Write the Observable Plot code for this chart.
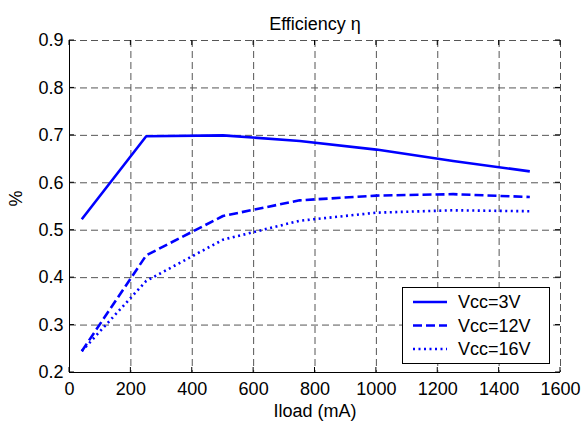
<!DOCTYPE html>
<html>
<head>
<meta charset="utf-8">
<script src="https://cdn.jsdelivr.net/npm/d3@7"></script>
<script src="https://cdn.jsdelivr.net/npm/@observablehq/plot@0.6"></script>
<style>
  body { margin: 0; background: #fff; }
  #wrap { position: relative; width: 581px; height: 423px; font-family: "Liberation Sans", Arial, sans-serif; }
  #legend { position: absolute; }
</style>
</head>
<body>
<div id="wrap"></div>
<script>
const iload = [40, 250, 500, 750, 1000, 1250, 1500];
const eta3V  = [0.523, 0.698, 0.700, 0.688, 0.670, 0.646, 0.624];
const eta12V = [0.245, 0.447, 0.530, 0.563, 0.573, 0.576, 0.570];
const eta16V = [0.245, 0.393, 0.480, 0.520, 0.537, 0.542, 0.540];
const seriesNames = ["Vcc=3V", "Vcc=12V", "Vcc=16V"];
const seriesDash = ["none", "9,4", "2,3.5"];
const xTicks = [0, 200, 400, 600, 800, 1000, 1200, 1400, 1600];
const yTicks = [0.2, 0.3, 0.4, 0.5, 0.6, 0.7, 0.8, 0.9];

const seriesValues = [eta3V, eta12V, eta16V];
const rows = seriesValues.map((vals, i) => iload.map((x, j) => ({x, y: vals[j], s: seriesNames[i]})));

const gridStyle = {stroke: "#555", strokeOpacity: 1, strokeWidth: 1, strokeDasharray: "7,4"};
const FONT = "Liberation Sans, Arial, sans-serif";

const chart = Plot.plot({
  width: 581,
  height: 423,
  marginLeft: 69,
  marginRight: 21,
  marginTop: 40,
  marginBottom: 51,
  style: {fontFamily: FONT, fontSize: "18px", background: "white", color: "black"},
  x: {domain: [0, 1600], ticks: xTicks},
  y: {domain: [0.2, 0.9], ticks: yTicks},
  marks: [
    Plot.gridX(xTicks, gridStyle),
    Plot.gridY(yTicks, gridStyle),
    Plot.ruleX([0], {stroke: "black", strokeWidth: 1}),
    Plot.ruleY([0.2], {stroke: "black", strokeWidth: 1}),
    Plot.axisX(xTicks, {tickSize: 0, tickPadding: 10, tickFormat: d => String(d), label: null, fontSize: 18}),
    Plot.axisY(yTicks, {tickSize: 0, tickPadding: 6, tickFormat: d => d.toFixed(1), label: null, fontSize: 18}),
    ...rows.map((r, i) => Plot.line(r, {x: "x", y: "y", stroke: "#0000ff", strokeWidth: 2.6, strokeDasharray: seriesDash[i] === "none" ? null : seriesDash[i], strokeLinecap: "butt"})),
    Plot.text(["Efficiency η"], {frameAnchor: "top", dy: -23, fontSize: 18}),
    Plot.text(["Iload (mA)"], {frameAnchor: "bottom", dy: 44, fontSize: 18}),
    Plot.text(["%"], {frameAnchor: "left", dx: -53, rotate: -90, fontSize: 18})
  ]
});
document.getElementById("wrap").appendChild(chart);

// Inward tick marks on all four sides, placed with the chart's own scales
const sx = chart.scale("x"), sy = chart.scale("y");
const svg = d3.select(chart);
const tg = svg.append("g").attr("stroke", "black").attr("stroke-width", 1);
const x0 = sx.apply(0), x1 = sx.apply(1600), y0 = sy.apply(0.2), y1 = sy.apply(0.9);
xTicks.forEach(t => {
  const x = sx.apply(t);
  tg.append("line").attr("x1", x).attr("x2", x).attr("y1", y0).attr("y2", y0 - 5);
  tg.append("line").attr("x1", x).attr("x2", x).attr("y1", y1).attr("y2", y1 + 5);
});
yTicks.forEach(t => {
  const y = sy.apply(t);
  tg.append("line").attr("x1", x0).attr("x2", x0 + 5).attr("y1", y).attr("y2", y);
  tg.append("line").attr("x1", x1).attr("x2", x1 - 5).attr("y1", y).attr("y2", y);
});

// Legend overlay
const lg = d3.select("#wrap").append("svg")
  .attr("id", "legend")
  .attr("width", 148).attr("height", 77)
  .style("left", "402px").style("top", "287px");
lg.append("rect").attr("x", 0.5).attr("y", 0.5).attr("width", 147).attr("height", 76)
  .attr("fill", "white").attr("stroke", "black").attr("stroke-width", 1);
seriesNames.forEach((name, i) => {
  const cy = 15 + i * 23.5;
  const ln = lg.append("line").attr("x1", 11).attr("x2", 45).attr("y1", cy).attr("y2", cy)
    .attr("stroke", "#0000ff").attr("stroke-width", 2.6);
  if (seriesDash[i] !== "none") ln.attr("stroke-dasharray", seriesDash[i]);
  lg.append("text").attr("x", 56).attr("y", cy).attr("dy", "0.35em")
    .attr("font-family", FONT).attr("font-size", 18).text(name);
});
</script>
</body>
</html>
